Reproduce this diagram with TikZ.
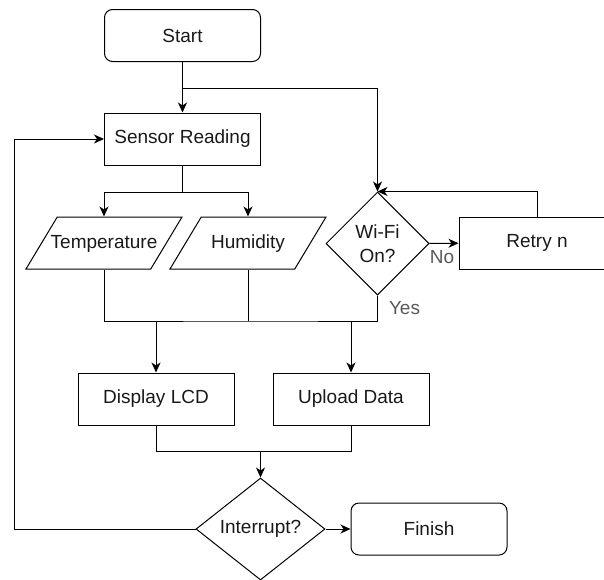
\documentclass[tikz,border=0pt]{standalone}
\usepackage{fontspec}
\setmainfont{Liberation Sans}
\usetikzlibrary{shapes.geometric, arrows.meta, positioning}
\tikzstyle{process} = [rectangle, draw, line width=1pt, minimum width=156pt, minimum height=52pt, inner sep=0pt, text=black!90]
\tikzstyle{terminal} = [process, rounded corners=8pt]
\tikzstyle{io} = [trapezium, trapezium left angle=59, trapezium right angle=121, trapezium stretches body=true, draw, line width=1pt, minimum width=156pt, inner xsep=-8pt, inner ysep=17pt, text height=14pt, text depth=4pt, text=black!90]
\tikzstyle{decision} = [diamond, draw, line width=1pt, inner sep=0pt, align=center, text=black!90]
\tikzstyle{line} = [draw, line width=1pt]
\tikzstyle{arrowline} = [line, -{Stealth[length=10pt, width=9pt, inset=3pt]}]
\tikzstyle{answer} = [text=black!65]

\begin{document}
\begin{tikzpicture}[x=1pt, y=-1pt, font=\fontsize{19}{22}\selectfont]
	\useasboundingbox (0, 0) rectangle (604, 579);
	\clip (0, 0) rectangle (604, 579);

	\node [terminal] (start) at (182.5, 35.5) {Start};
	\node [process] (sensor) at (182.5, 139) {Sensor Reading};
	\node [io] (temp) at (104, 243) {Temperature};
	\node [io] (humid) at (248, 243) {Humidity};
	\node [decision, minimum width=103pt, minimum height=103pt, font=\fontsize{19}{24}\selectfont] (wifi) at (377.5, 243.5) {Wi-Fi\\On?};
	\node [process] (retry) at (537, 243) {Retry n};
	\node [process] (display) at (156, 399) {Display LCD};
	\node [process] (upload) at (351, 399) {Upload Data};
	\node [decision, minimum width=129pt, minimum height=102pt] (interrupt) at (260.5, 529) {Interrupt?};
	\node [terminal] (finish) at (429, 529) {Finish};

	\node [answer] (no) at (442, 257) {No};
	\node [answer] (yes) at (404.5, 308) {Yes};

	\coordinate (fork) at (182.5, 88);
	\coordinate (split) at (182.5, 192);
	\coordinate (merge) at (260, 321);
	\coordinate (join) at (260.5, 451);
	\coordinate (back) at (14, 529);

	\path [arrowline] (start) -- (sensor);
	\path [arrowline] (fork) -| (wifi);
	\path [line] (sensor) -- (split);
	\path [arrowline] (split) -| (temp);
	\path [arrowline] (split) -| (humid);
	\path [arrowline] (wifi) -- (retry);
	\path [arrowline] (retry) |- (wifi.north);
	\path [line] (temp) |- (merge) -| (wifi);
	\path [line] (humid) -- (humid |- merge);
	\path [arrowline] (display |- merge) -- (display);
	\path [arrowline] (upload |- merge) -- (upload);
	\path [line] (display) |- (join) -| (upload);
	\path [arrowline] (join) -- (interrupt);
	\path [arrowline] (interrupt) -- (finish);
	\path [arrowline] (interrupt) -- (back) |- (sensor);
\end{tikzpicture}
\end{document}
